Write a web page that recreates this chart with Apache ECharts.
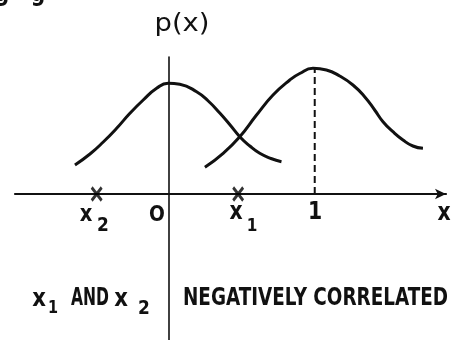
<!DOCTYPE html>
<html>
<head>
<meta charset="utf-8">
<script src="https://cdn.jsdelivr.net/npm/echarts@6/dist/echarts.min.js"></script>
<style>
  html, body { margin: 0; padding: 0; background: #fff; }
  #chart { width: 457px; height: 340px; }
</style>
</head>
<body>
<div id="chart"></div>
<script>
// 两条分布曲线 p(x)
const leftCurveX = [-0.644, -0.541, -0.45, -0.358, -0.267, -0.176, -0.084, -0.005, 0.075, 0.19, 0.27, 0.349, 0.42, 0.486, 0.555, 0.623, 0.7, 0.772]
const leftCurveY = [0.29, 0.40, 0.52, 0.657, 0.807, 0.94, 1.057, 1.107, 1.097, 1.023, 0.93, 0.81, 0.69, 0.573, 0.48, 0.407, 0.355, 0.323]
const rightCurveX = [0.247, 0.372, 0.486, 0.601, 0.714, 0.829, 0.897, 0.988, 1.08, 1.171, 1.262, 1.342, 1.411, 1.468, 1.536, 1.605, 1.673, 1.742]
const rightCurveY = [0.267, 0.407, 0.573, 0.79, 0.99, 1.14, 1.205, 1.257, 1.24, 1.18, 1.09, 0.973, 0.84, 0.723, 0.623, 0.54, 0.48, 0.457]

// 右侧曲线峰值处的虚线
const peakX = 1
const peakY = 1.257

// 两个样本点 x1, x2
const sampleNames = ['x1', 'x2']
const sampleX = [0.475, -0.495]

const FONT = '"DejaVu Sans", "Liberation Sans", sans-serif'

const chart = echarts.init(document.getElementById('chart'), null, { renderer: 'canvas' })

const toPairs = (xs, ys) => xs.map((x, i) => [x, ys[i]])

// 量一下文字宽度，用来横向压缩成窄体字
const measureCtx = document.createElement('canvas').getContext('2d')
function textWidth(text, size, weight) {
  measureCtx.font = `${weight} ${size}px ${FONT}`
  return measureCtx.measureText(text).width
}

// 文字标注：fit 为目标宽度，没有就按固定比例压窄
function label(text, x, y, size, fit, weight) {
  weight = weight || 'bold'
  const sx = fit ? fit / textWidth(text, size, weight) : 0.85
  return {
    type: 'text',
    x: x,
    y: y,
    scaleX: sx,
    style: {
      text: text,
      fontFamily: FONT,
      fontSize: size,
      fontWeight: weight,
      fill: '#111',
      align: 'center',
      verticalAlign: 'middle'
    }
  }
}

const curveStyle = { color: '#111', width: 3 }

const option = {
  animation: false,
  backgroundColor: '#fff',
  grid: { left: 15, right: 11, top: 57, bottom: 0 },
  xAxis: {
    type: 'value',
    min: -1.055,
    max: 1.9,
    axisLine: {
      onZero: true,
      lineStyle: { color: '#111', width: 2.2 },
      symbol: ['none', 'arrow'],
      symbolSize: [8, 11]
    },
    axisTick: { show: false },
    axisLabel: { show: false },
    splitLine: { show: false }
  },
  yAxis: {
    type: 'value',
    min: -1.46,
    max: 1.37,
    axisLine: { onZero: true, lineStyle: { color: '#111', width: 1.6 } },
    axisTick: { show: false },
    axisLabel: { show: false },
    splitLine: { show: false }
  },
  series: [
    {
      name: 'left',
      type: 'line',
      smooth: 0.5,
      symbol: 'none',
      lineStyle: curveStyle,
      data: toPairs(leftCurveX, leftCurveY)
    },
    {
      name: 'right',
      type: 'line',
      smooth: 0.5,
      symbol: 'none',
      lineStyle: curveStyle,
      data: toPairs(rightCurveX, rightCurveY)
    },
    {
      name: 'peak',
      type: 'line',
      symbol: 'none',
      lineStyle: { color: '#111', width: 2, type: [7, 4] },
      data: [[peakX, 0], [peakX, peakY]]
    },
    {
      name: 'samples',
      type: 'scatter',
      symbol: 'path://M0 0L10 12M10 0L0 12',
      symbolSize: [10, 13],
      itemStyle: { color: '#000', borderColor: '#000', borderWidth: 3 },
      data: sampleX.map((x, i) => ({ name: sampleNames[i], value: [x, 0] }))
    }
  ],
  graphic: [
    label('p(x)', 182, 24, 25, 55, 'normal'),
    label('g   g', 20, -5, 24),
    // 坐标轴下方的标注
    label('x', 86, 215, 23),
    label('2', 103, 226, 20),
    label('O', 157, 215, 22),
    label('x', 236, 213, 24),
    label('1', 252, 226, 18),
    label('1', 315, 213, 24),
    label('x', 444, 214, 24),
    // 底部说明
    label('x', 39, 299, 25),
    label('1', 53, 309, 17),
    label('AND', 90, 298, 25, 38),
    label('x', 121, 299, 25),
    label('2', 144, 309, 20),
    label('NEGATIVELY CORRELATED', 315.5, 298, 25, 265)
  ]
}

chart.setOption(option)
</script>
</body>
</html>
